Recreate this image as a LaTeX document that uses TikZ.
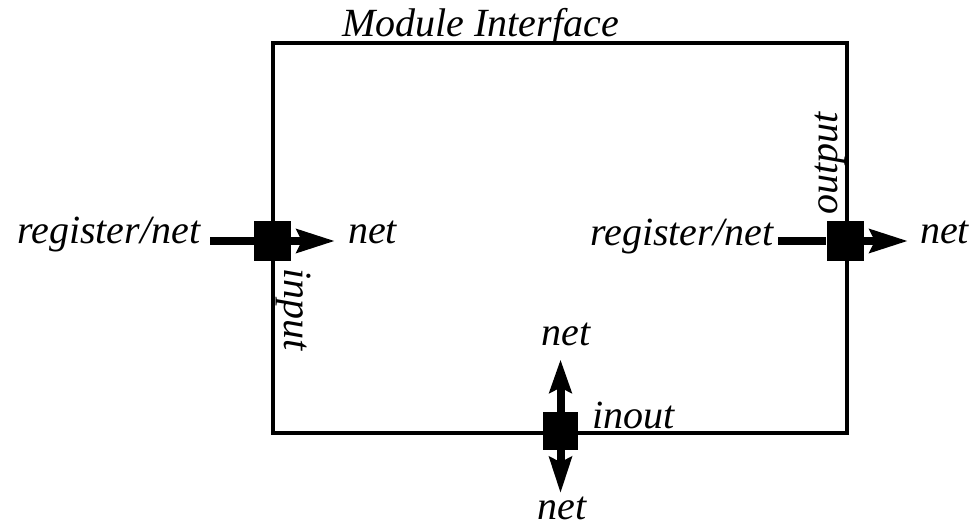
\documentclass[tikz,border=0pt]{standalone}
\usepackage{fontspec}
\setmainfont{Liberation Serif}
\usetikzlibrary{arrows.meta}
\begin{document}
\begin{tikzpicture}[x=1pt,y=-1pt,
  lbl/.style={inner sep=0pt, font=\fontsize{40}{48}\selectfont\itshape},
  port/.style={fill=black, inner sep=0pt, minimum width=37pt, minimum height=40pt},
  wire/.style={line width=8pt},
  sig/.style={line width=8pt, -{Stealth[length=38pt,width=23pt,inset=5pt]}},
  frame/.style={draw, line width=4pt, inner sep=0pt, minimum width=574pt, minimum height=390pt}]
\useasboundingbox (0,0) rectangle (973,529);
\node[frame] (box) at (560,238) {};
\node[lbl, anchor=base west] (title) at (342,37) {Module Interface};
% left port
\node[port] (lsq) at (272.5,241) {};
\node[lbl, anchor=base west] (lrn) at (17,243) {register/net};
\node[lbl, anchor=base west] (lnet) at (348,243) {net};
\node[lbl, anchor=base west, rotate=-90] (lin) at (284,268) {input};
\draw[wire, shorten <=10pt] (lsq.west -| lrn.east) -- (lsq.west);
\draw[sig, shorten >=13pt] (lsq.east) -- (lsq.east -| lnet.west);
% right port
\node[port] (rsq) at (845,241) {};
\node[lbl, anchor=base west] (rrn) at (590,245) {register/net};
\node[lbl, anchor=base west] (rnet) at (920,243) {net};
\node[lbl, anchor=base west, rotate=90] (rout) at (837,215) {output};
\draw[wire, shorten <=5pt] (rsq.west -| rrn.east) -- (rsq.west);
\draw[sig, shorten >=12pt] (rsq.east) -- (rsq.east -| rnet.west);
% bottom port
\node[port, minimum width=35pt, minimum height=38pt] (bsq) at (560.5,431) {};
\node[lbl, anchor=base] (tnet) at (566,345) {net};
\node[lbl, anchor=base] (bnet) at (562,519) {net};
\node[lbl, anchor=base west] (inout) at (592,428) {inout};
\draw[sig, -{Stealth[length=33pt,width=22pt,inset=5pt]}, shorten >=14pt] (bsq.north) -- (bsq.north |- tnet.south);
\draw[sig, -{Stealth[length=36pt,width=22pt,inset=5pt]}, shorten >=3pt] (bsq.south) -- (bsq.south |- bnet.north);
\end{tikzpicture}
\end{document}
